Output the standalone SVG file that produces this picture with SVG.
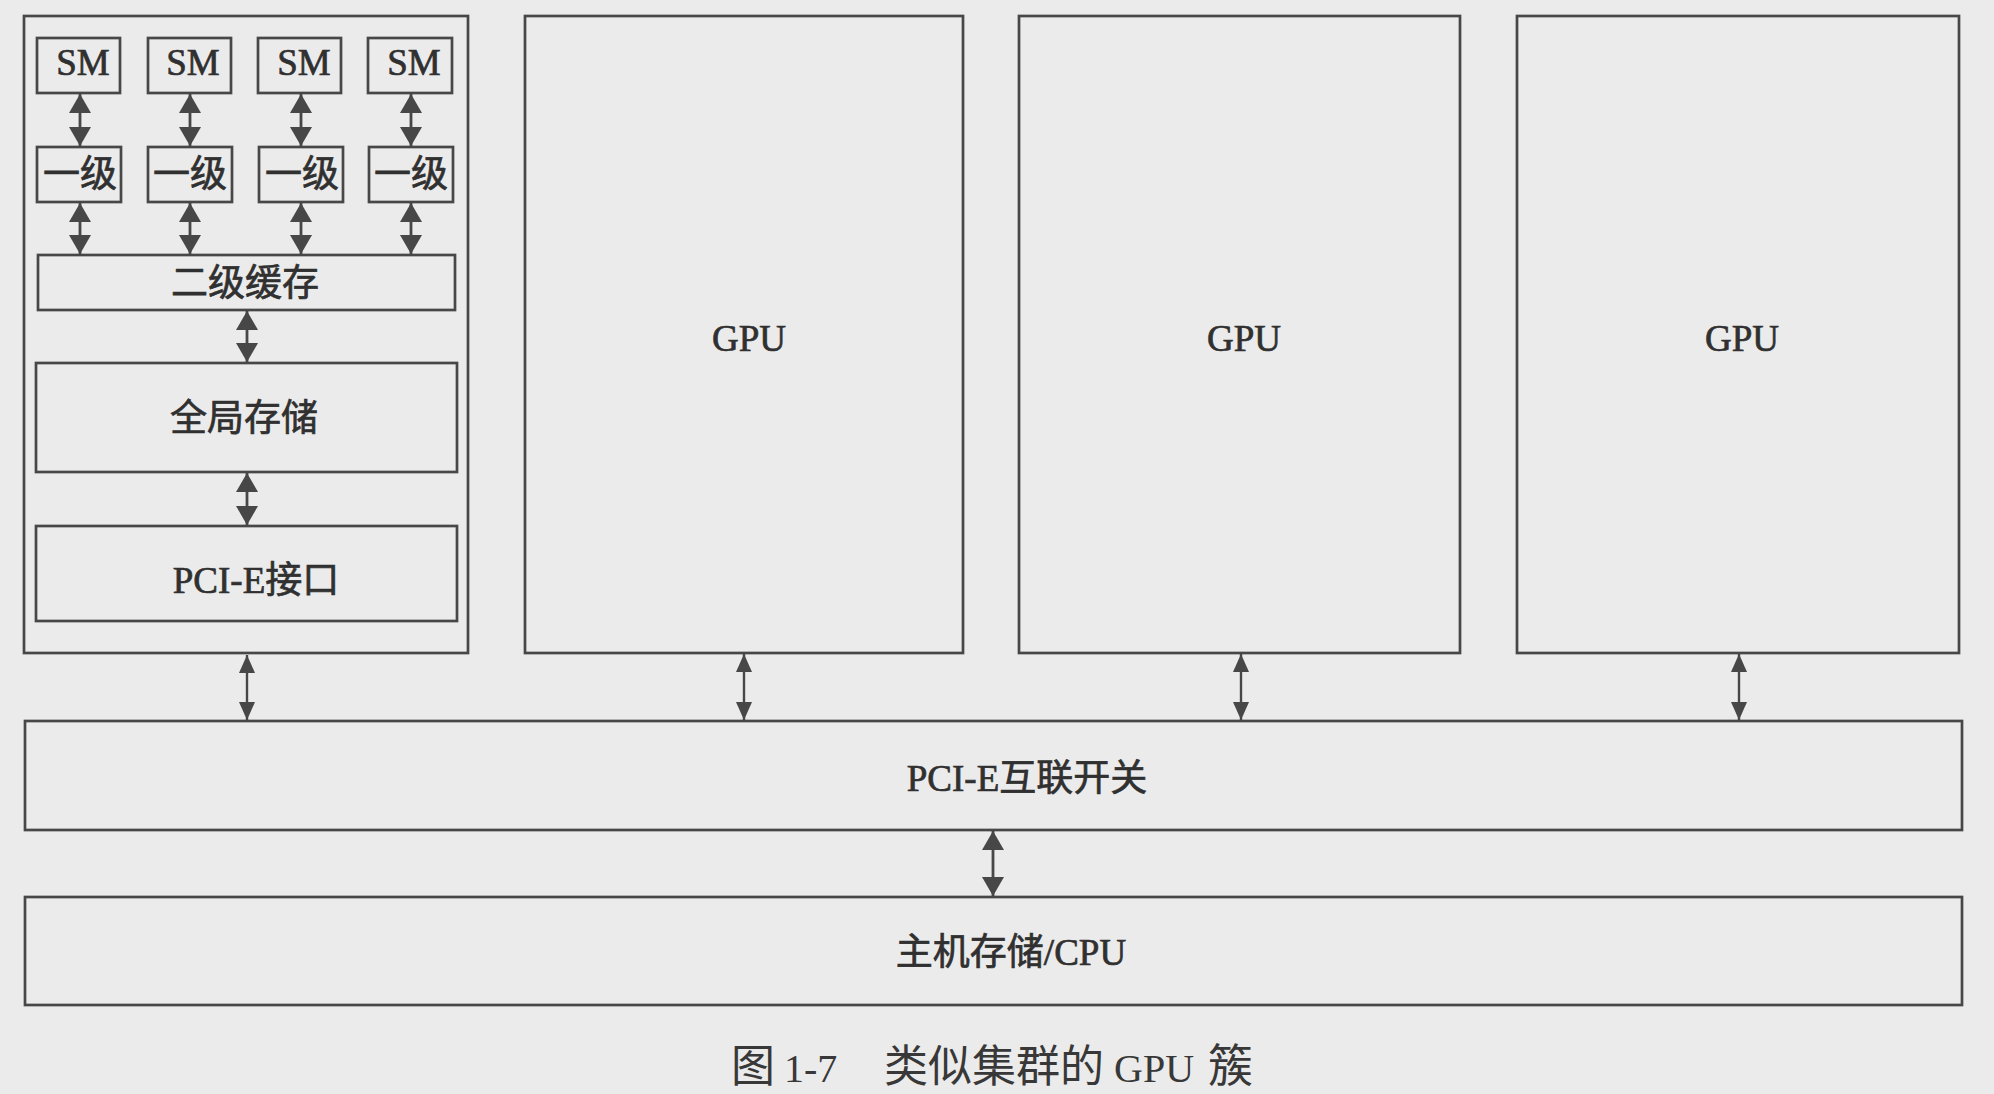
<svg xmlns="http://www.w3.org/2000/svg" width="1994" height="1094" viewBox="0 0 1994 1094">
<style>
.bx{fill:none;stroke:#474747;stroke-width:2.7}
.ln{fill:none;stroke:#474747;stroke-width:2.8;marker-start:url(#ah);marker-end:url(#ah)}
.ls{fill:none;stroke:#474747;stroke-width:2.4;marker-start:url(#as);marker-end:url(#as)}
.t{font-family:"Liberation Serif","Noto Sans CJK SC",serif;font-size:37px;font-weight:400;fill:#303030;stroke:#303030;stroke-width:0.7;text-anchor:middle;dominant-baseline:central}
.cap{font-family:"Liberation Serif","Noto Sans CJK SC",serif;font-weight:400;fill:#383838}
</style>
<defs>
<marker id="ah" viewBox="0 0 19 22" refX="19" refY="11" markerWidth="19" markerHeight="22" markerUnits="userSpaceOnUse" orient="auto-start-reverse">
<path d="M0,0 L19,11 L0,22 Z" fill="#474747"/>
</marker>
<marker id="as" viewBox="0 0 18 16" refX="18" refY="8" markerWidth="18" markerHeight="16" markerUnits="userSpaceOnUse" orient="auto-start-reverse">
<path d="M0,0 L18,8 L0,16 Z" fill="#474747"/>
</marker>
</defs>
<rect x="0" y="0" width="1994" height="1094" fill="#ebebeb"/>

<g id="connectors">
<line class="ln" x1="80" y1="94" x2="80" y2="146"/>
<line class="ln" x1="190" y1="94" x2="190" y2="146"/>
<line class="ln" x1="301" y1="94" x2="301" y2="146"/>
<line class="ln" x1="411" y1="94" x2="411" y2="146"/>
<line class="ln" x1="80" y1="203" x2="80" y2="254"/>
<line class="ln" x1="190" y1="203" x2="190" y2="254"/>
<line class="ln" x1="301" y1="203" x2="301" y2="254"/>
<line class="ln" x1="411" y1="203" x2="411" y2="254"/>
<line class="ln" x1="247" y1="311" x2="247" y2="362"/>
<line class="ln" x1="247" y1="473" x2="247" y2="525"/>
<line class="ls" x1="247" y1="655" x2="247" y2="720"/>
<line class="ls" x1="744" y1="654" x2="744" y2="720"/>
<line class="ls" x1="1241" y1="654" x2="1241" y2="720"/>
<line class="ls" x1="1739" y1="654" x2="1739" y2="720"/>
<line class="ln" x1="993" y1="831" x2="993" y2="896"/>
</g>

<g id="gpu1">
<rect class="bx" x="24" y="16" width="444" height="637"/>
<g id="sm1"><rect class="bx" x="37" y="38" width="83" height="55"/><text class="t" x="83" y="62">SM</text></g>
<g id="sm2"><rect class="bx" x="148" y="38" width="83" height="55"/><text class="t" x="193" y="62">SM</text></g>
<g id="sm3"><rect class="bx" x="258" y="38" width="83" height="55"/><text class="t" x="304" y="62">SM</text></g>
<g id="sm4"><rect class="bx" x="368" y="38" width="84" height="55"/><text class="t" x="414" y="62">SM</text></g>
<g id="l1a"><rect class="bx" x="37" y="147" width="84" height="55"/><text class="t" x="80" y="174">一级</text></g>
<g id="l1b"><rect class="bx" x="148" y="147" width="84" height="55"/><text class="t" x="190" y="174">一级</text></g>
<g id="l1c"><rect class="bx" x="259" y="147" width="84" height="55"/><text class="t" x="302" y="174">一级</text></g>
<g id="l1d"><rect class="bx" x="369" y="147" width="84" height="55"/><text class="t" x="411" y="174">一级</text></g>
<g id="l2"><rect class="bx" x="38" y="255" width="417" height="55"/><text class="t" x="245" y="283">二级缓存</text></g>
<g id="gmem"><rect class="bx" x="36" y="363" width="421" height="109"/><text class="t" x="244" y="418">全局存储</text></g>
<g id="pcie-if"><rect class="bx" x="36" y="526" width="421" height="95"/><text class="t" x="256" y="580">PCI-E接口</text></g>
</g>

<g id="gpu2"><rect class="bx" x="525" y="16" width="438" height="637"/><text class="t" x="749" y="338">GPU</text></g>
<g id="gpu3"><rect class="bx" x="1019" y="16" width="441" height="637"/><text class="t" x="1244" y="338">GPU</text></g>
<g id="gpu4"><rect class="bx" x="1517" y="16" width="442" height="637"/><text class="t" x="1742" y="338">GPU</text></g>

<g id="switch"><rect class="bx" x="25" y="721" width="1937" height="109"/><text class="t" x="1027" y="778">PCI-E互联开关</text></g>
<g id="host"><rect class="bx" x="25" y="897" width="1937" height="108"/><text class="t" x="1011" y="952">主机存储/CPU</text></g>

<g id="caption">
<text class="cap" y="1082"><tspan x="731" font-size="44">图</tspan><tspan x="784" font-size="40">1-7</tspan><tspan x="884" font-size="44">类似集群的</tspan><tspan x="1114" font-size="40">GPU</tspan><tspan x="1208" font-size="45">簇</tspan></text>
</g>
</svg>
